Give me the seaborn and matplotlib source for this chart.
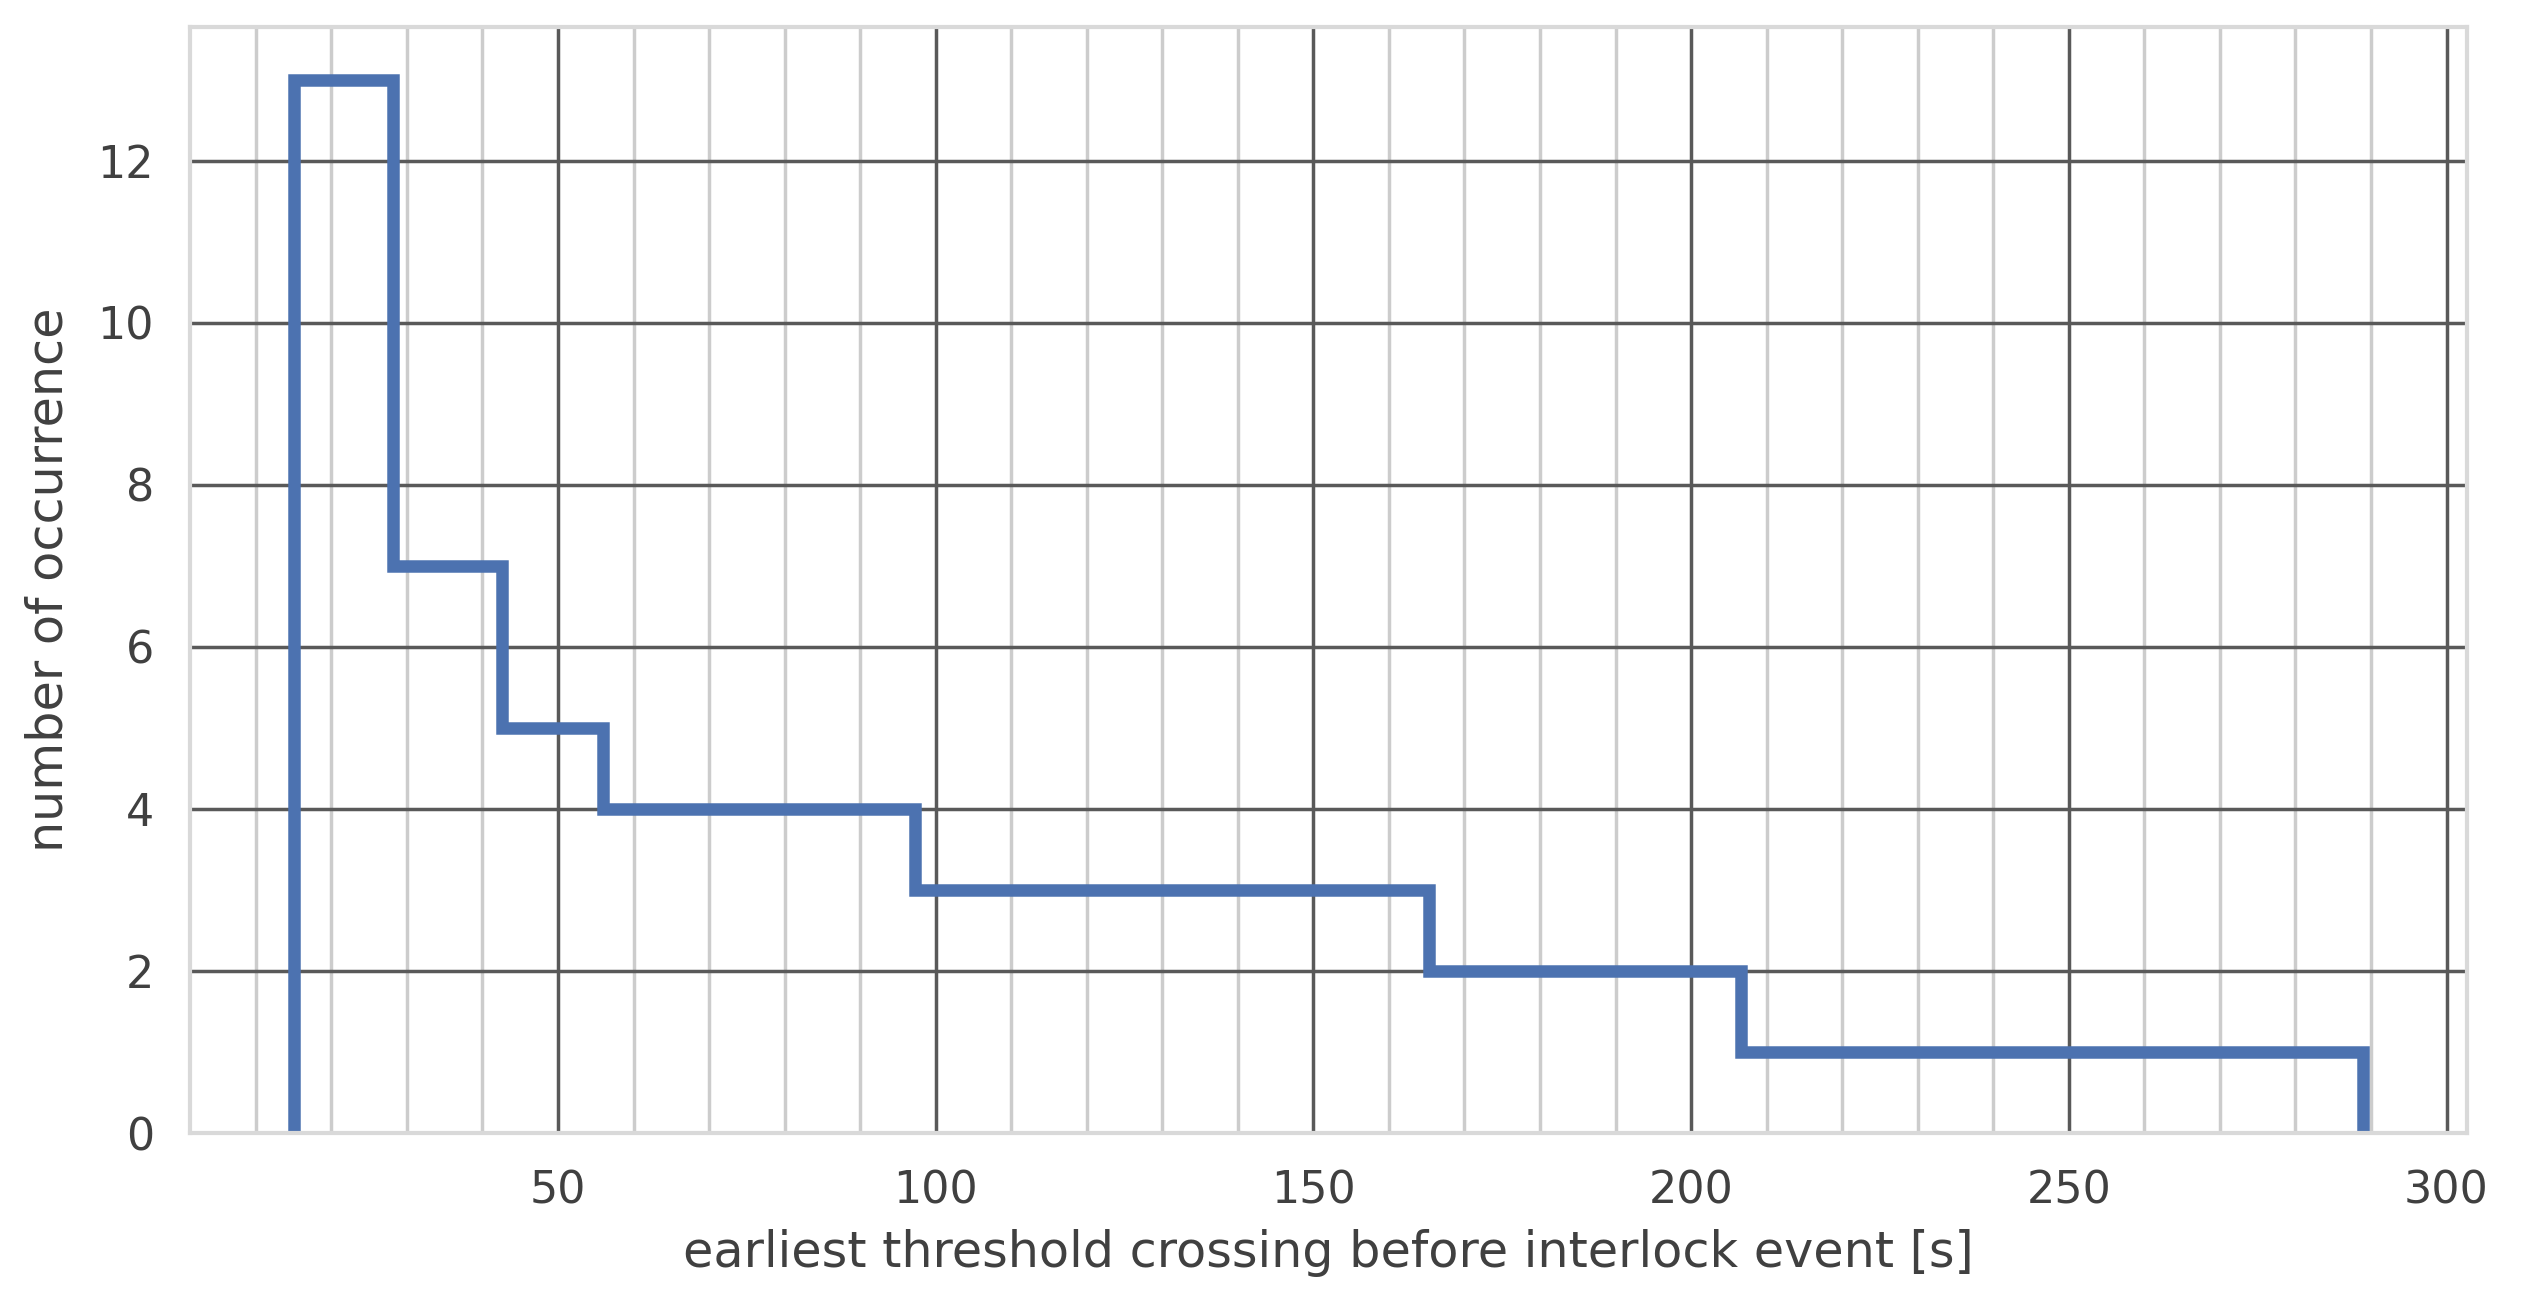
import numpy as np
import matplotlib
matplotlib.use("Agg")
import matplotlib.pyplot as plt
from matplotlib.ticker import MultipleLocator
import seaborn as sns

# bin edges [s] and counts
bin_edges = [15.0, 28.1, 42.6, 56.0, 97.2, 165.3, 206.6, 289.0]
counts = [13, 7, 5, 4, 3, 2, 1]

sns.set_theme(style="whitegrid")
plt.rcParams['font.family'] = ['DejaVu Sans']

fig = plt.figure(figsize=(25.24, 13.01), dpi=100)
ax = fig.add_axes([0.0753, 0.1291, 0.9021, 0.8501])

sns.histplot(x=bin_edges[:-1], weights=counts, bins=bin_edges,
             element="step", fill=False, color="#4C72B0", linewidth=9,
             ax=ax)

# close the outline down to the baseline at both ends
ln = ax.lines[0]
xs, ys = ln.get_data()
ln.set_data(np.r_[xs[0], xs, xs[-1]], np.r_[0, ys, 0])
ln.set_solid_joinstyle("miter")
ln.set_solid_capstyle("butt")
ax.relim()
ax.autoscale_view()
ax.set_ylim(bottom=0)

ax.xaxis.set_minor_locator(MultipleLocator(10))
ax.xaxis.set_major_locator(MultipleLocator(50))
ax.yaxis.set_major_locator(MultipleLocator(2))
ax.grid(which="major", color="0.35", linewidth=2.5)
ax.grid(which="minor", axis="x", color="0.8", linewidth=2.5)
ax.set_axisbelow(True)

for sp in ax.spines.values():
    sp.set_color("0.85")
    sp.set_linewidth(3)

ax.tick_params(axis="both", labelsize=32, colors="0.25", pad=20)
ax.set_xlabel("earliest threshold crossing before interlock event [s]",
              fontsize=35.5, color="0.25", labelpad=12)
ax.set_ylabel("number of occurrence", fontsize=35.5, color="0.25",
              labelpad=18)

fig.savefig("out.png", dpi=100)
